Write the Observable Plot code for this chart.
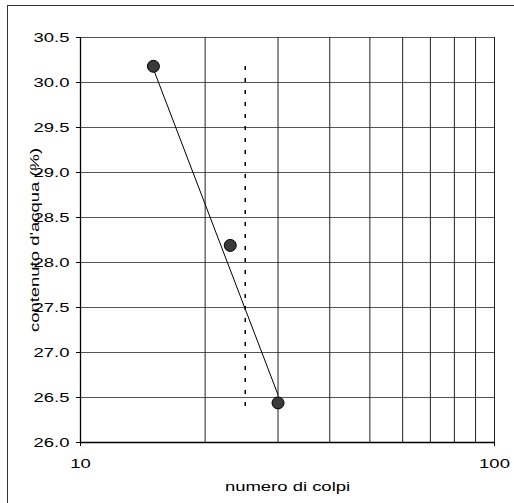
<!DOCTYPE html>
<html><head><meta charset="utf-8">
<script src="https://cdn.jsdelivr.net/npm/d3@7"></script>
<script src="https://cdn.jsdelivr.net/npm/@observablehq/plot@0.6"></script>
<style>
body{margin:0;background:#fff;}
#wrap{position:relative;width:514px;height:503px;overflow:hidden;background:#fff;}
#border{position:absolute;left:7px;top:5px;right:-10px;bottom:-10px;border-left:1.5px solid #333;border-top:1.5px solid #333;pointer-events:none;}
#wrap svg{position:absolute;left:0;top:0;}
</style></head><body><div id="wrap"><div id="border"></div></div>
<script>
// data
const blows = [15, 23, 30];
const water = [30.18, 28.19, 26.44];
const trendBlows = [15, 30];
const trendWater = [30.15, 26.53];
const llBlows = [25];
const llWaterLow = [26.4];
const llWaterHigh = [30.2];
const xGridValues = [20, 30, 40, 50, 60, 70, 80, 90, 100];
const xTickValues = [10, 100];
const yTickValues = [26.0, 26.5, 27.0, 27.5, 28.0, 28.5, 29.0, 29.5, 30.0, 30.5];
const xLabel = "numero di colpi";
const yLabel = "contenuto d'acqua (%)";

const points = blows.map((b, i) => ({b, w: water[i]}));
const trend = trendBlows.map((b, i) => ({b, w: trendWater[i]}));
const ll = llBlows.map((b, i) => ({b, y1: llWaterLow[i], y2: llWaterHigh[i]}));

const chart = Plot.plot({
  width: 514,
  height: 503,
  marginLeft: 80,
  marginRight: 20,
  marginTop: 37,
  marginBottom: 61,
  style: {fontFamily: "'Liberation Sans', Arial, sans-serif", fontSize: "13px", color: "#000", background: "transparent"},
  x: {type: "log", domain: [10, 100]},
  y: {domain: [26, 30.5]},
  marks: [
    Plot.ruleY(yTickValues, {stroke: "#555", strokeWidth: 1}),
    Plot.ruleX(xGridValues, {stroke: "#222", strokeWidth: 1}),
    Plot.ruleX([10], {stroke: "#000", strokeWidth: 1.3}),
    Plot.ruleY([26], {stroke: "#000", strokeWidth: 1.3}),
    Plot.axisY(yTickValues, {tickFormat: d3.format(".1f"), tickSize: 4, tickPadding: 7, stroke: "#000", label: yLabel, labelAnchor: "center", labelOffset: 51, labelArrow: "none"}),
    Plot.axisX(xTickValues, {tickFormat: d3.format("d"), tickSize: 4, tickPadding: 12, stroke: "#000", label: xLabel, labelAnchor: "center", labelOffset: 48, labelArrow: "none"}),
    Plot.ruleX(ll, {x: "b", y1: "y1", y2: "y2", stroke: "#000", strokeWidth: 1.5, strokeDasharray: "4,8"}),
    Plot.line(trend, {x: "b", y: "w", stroke: "#000", strokeWidth: 1}),
    Plot.dot(points, {x: "b", y: "w", r: 6, fill: "#3a3a3a", stroke: "#000", strokeWidth: 1})
  ]
});
document.getElementById("wrap").appendChild(chart);

// the scanned reference has its lettering stretched along the baseline
const stretch = 1.42;
chart.querySelectorAll("text").forEach(t => {
  const spans = t.querySelectorAll("tspan");
  const targets = spans.length ? Array.from(spans) : [t];
  targets.forEach(el => {
    const len = el.getComputedTextLength();
    if (len > 0) {
      el.setAttribute("textLength", len * stretch);
      el.setAttribute("lengthAdjust", "spacingAndGlyphs");
    }
  });
});
</script>
</body></html>
